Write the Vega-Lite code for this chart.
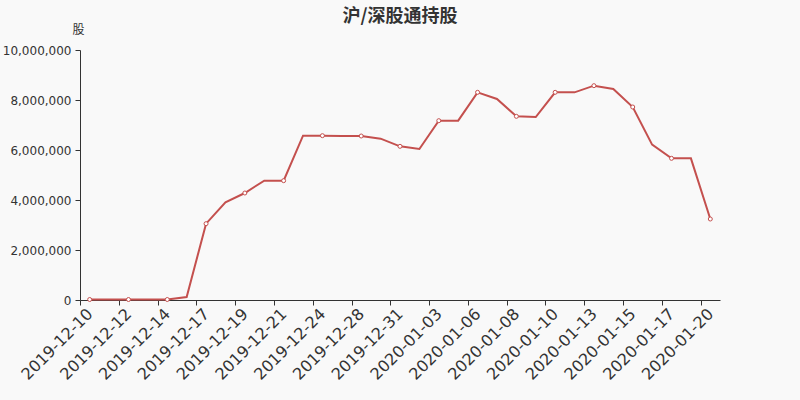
{
  "$schema": "https://vega.github.io/schema/vega-lite/v6.json",
  "width": 640,
  "height": 250,
  "autosize": {"type": "none"},
  "padding": {"left": 80, "top": 50, "right": 80, "bottom": 100},
  "background": "#f9f9f9",
  "title": {
    "text": "沪/深股通持股",
    "font": "Noto Sans CJK SC",
    "fontSize": 18,
    "fontWeight": "bold",
    "color": "#333333",
    "anchor": "middle",
    "offset": -3
  },
  "config": {
    "view": {"stroke": null},
    "font": "DejaVu Sans",
    "axis": {"grid": false, "domainColor": "#333333", "tickColor": "#333333", "labelColor": "#333333", "titleColor": "#333333"}
  },
  "data": {
    "values": [
      {"date": "2019-12-10", "shares": 20000},
      {"date": "2019-12-11", "shares": 20000},
      {"date": "2019-12-12", "shares": 20000},
      {"date": "2019-12-13", "shares": 20000},
      {"date": "2019-12-14", "shares": 20000},
      {"date": "2019-12-16", "shares": 120000},
      {"date": "2019-12-17", "shares": 3053000},
      {"date": "2019-12-18", "shares": 3907000},
      {"date": "2019-12-19", "shares": 4280000},
      {"date": "2019-12-20", "shares": 4773000},
      {"date": "2019-12-21", "shares": 4773000},
      {"date": "2019-12-23", "shares": 6573000},
      {"date": "2019-12-24", "shares": 6573000},
      {"date": "2019-12-27", "shares": 6560000},
      {"date": "2019-12-28", "shares": 6560000},
      {"date": "2019-12-30", "shares": 6453000},
      {"date": "2019-12-31", "shares": 6147000},
      {"date": "2020-01-02", "shares": 6040000},
      {"date": "2020-01-03", "shares": 7173000},
      {"date": "2020-01-04", "shares": 7173000},
      {"date": "2020-01-06", "shares": 8307000},
      {"date": "2020-01-07", "shares": 8040000},
      {"date": "2020-01-08", "shares": 7347000},
      {"date": "2020-01-09", "shares": 7320000},
      {"date": "2020-01-10", "shares": 8307000},
      {"date": "2020-01-11", "shares": 8307000},
      {"date": "2020-01-13", "shares": 8573000},
      {"date": "2020-01-14", "shares": 8440000},
      {"date": "2020-01-15", "shares": 7720000},
      {"date": "2020-01-16", "shares": 6213000},
      {"date": "2020-01-17", "shares": 5667000},
      {"date": "2020-01-18", "shares": 5667000},
      {"date": "2020-01-20", "shares": 3240000}
    ]
  },
  "encoding": {
    "x": {
      "field": "date",
      "type": "nominal",
      "sort": null,
      "scale": {"type": "band", "paddingInner": 0, "paddingOuter": 0},
      "axis": {
        "title": null,
        "values": ["2019-12-10", "2019-12-12", "2019-12-14", "2019-12-17", "2019-12-19", "2019-12-21", "2019-12-24", "2019-12-28", "2019-12-31", "2020-01-03", "2020-01-06", "2020-01-08", "2020-01-10", "2020-01-13", "2020-01-15", "2020-01-17", "2020-01-20"],
        "labelAngle": -45,
        "labelAlign": "right",
        "labelBaseline": "middle",
        "labelFontSize": 16,
        "labelPadding": 6,
        "tickSize": 5,
        "tickOffset": -9.7,
        "labelOffset": 9.7
      }
    },
    "y": {
      "field": "shares",
      "type": "quantitative",
      "scale": {"domain": [0, 10000000]},
      "axis": {
        "values": [0, 2000000, 4000000, 6000000, 8000000, 10000000],
        "labelExpr": "format(datum.value, ',.0f')",
        "labelFontSize": 12,
        "labelPadding": 4,
        "tickSize": 5,
        "title": "股",
        "titleFont": "Noto Sans CJK SC",
        "titleFontSize": 12,
        "titleFontWeight": "normal",
        "titleAngle": 0,
        "titleAlign": "center",
        "titleBaseline": "middle",
        "titleX": -2,
        "titleY": -21
      }
    }
  },
  "layer": [
    {
      "mark": {"type": "line", "color": "#c4504e", "strokeWidth": 2}
    },
    {
      "transform": [
        {"window": [{"op": "row_number", "as": "rn"}]},
        {"filter": "datum.rn % 2 === 1"}
      ],
      "mark": {"type": "point", "shape": "circle", "filled": true, "fill": "white", "stroke": "#c4504e", "strokeWidth": 1, "size": 16, "opacity": 1}
    }
  ]
}
